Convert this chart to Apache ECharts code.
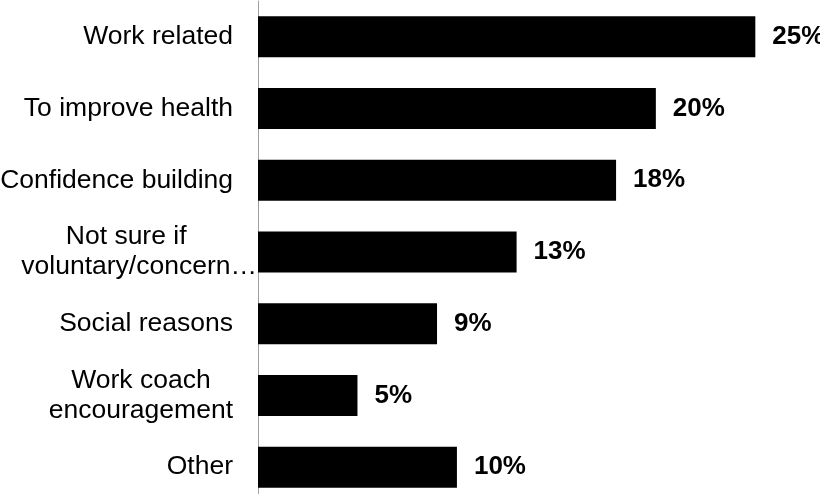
<!DOCTYPE html>
<html>
<head>
<meta charset="utf-8">
<title>Reasons for taking part</title>
<script src="https://cdn.jsdelivr.net/npm/echarts@6/dist/echarts.min.js"></script>
<style>
  html, body { margin: 0; padding: 0; background: #ffffff; }
  #chart { width: 820px; height: 494px; }
</style>
</head>
<body>
<div id="chart"></div>
<script>
// Reasons, listed top to bottom
const categories = [
  'Work related',
  'To improve health',
  'Confidence building',
  'Not sure if\nvoluntary/concern\u2026',
  'Social reasons',
  'Work coach\nencouragement',
  'Other'
];

// Share of respondents, percent
const shares = [25, 20, 18, 13, 9, 5, 10];

const FONT = '"Liberation Sans", Arial, Helvetica, sans-serif';
const ELLIPSIS = '\u2026';

const labelText = {
  align: 'center',
  fontFamily: FONT,
  fontSize: 26.5,
  lineHeight: 30,
  color: '#000000'
};

// Lines are centred within each label; a trailing ellipsis hangs past the
// text column so the wording itself stays aligned with the other labels.
function formatCategory(v) {
  const lines = v.split('\n');
  const clipped = lines.some((s) => s.endsWith(ELLIPSIS));
  return lines.map((s) => {
    if (s.endsWith(ELLIPSIS)) {
      return '{t|' + s.slice(0, -1) + '}{e|' + ELLIPSIS + '}';
    }
    return (clipped ? '{s|' : '{c|') + s + '}';
  }).join('\n');
}

const chart = echarts.init(document.getElementById('chart'), null, { renderer: 'canvas' });

chart.setOption({
  animation: false,
  backgroundColor: '#ffffff',
  grid: {
    left: 258,
    top: 1,
    width: 557,
    height: 502,
    containLabel: false,
    outerBoundsMode: 'none'
  },
  xAxis: {
    type: 'value',
    min: 0,
    max: 28,
    show: false
  },
  yAxis: {
    type: 'category',
    data: categories,
    inverse: true,
    axisLine: { show: true, lineStyle: { color: '#a0a0a0', width: 1 } },
    axisTick: { show: false },
    splitLine: { show: false },
    axisLabel: {
      margin: 1,
      align: 'right',
      formatter: formatCategory,
      rich: {
        c: Object.assign({}, labelText, { padding: [0, 24, 0, 0] }),
        s: Object.assign({}, labelText, { padding: [0, 26, 0, 0] }),
        t: Object.assign({}, labelText),
        e: Object.assign({}, labelText)
      }
    }
  },
  series: [{
    type: 'bar',
    data: shares,
    barWidth: 41,
    itemStyle: { color: '#000000' },
    label: {
      show: true,
      position: 'right',
      distance: 17,
      formatter: (p) => p.value + '%',
      fontFamily: FONT,
      fontSize: 26,
      fontWeight: 'bold',
      color: '#000000'
    }
  }]
});
</script>
</body>
</html>
